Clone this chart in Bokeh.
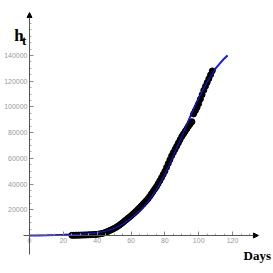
from bokeh.plotting import figure
from bokeh.models import Range1d, LinearAxis, FixedTicker, Arrow, NormalHead, Label, CustomJSTickFormatter
from bokeh.embed import file_html
from bokeh.resources import INLINE

# fitted curve (days, cumulative cases)
fit_days = [0, 5, 10, 15, 20, 25, 30, 35, 40, 45, 50, 55, 60, 65, 70, 75, 80, 85, 90, 95, 100, 105, 110, 115, 117]
fit_vals = [0, 50, 150, 300, 500, 750, 1000, 1400, 2000, 3300, 5500, 8700, 13300, 19000, 26000, 35500, 47500, 62000,
            77000, 92500, 107000, 119500, 130000, 137500, 140000]

# observed data
obs_days = list(range(25, 109))
obs_vals = [150, 170, 200, 230, 260, 300, 340, 380, 420, 470,
            520, 580, 650, 730, 820, 950, 1100, 1300, 1600, 2000,
            2500, 3000, 3600, 4200, 4800, 5500, 6200, 7000, 7900, 8900,
            9900, 11000, 12100, 13200, 14200, 15300, 16500, 17700, 18900, 20200,
            21500, 22900, 24300, 25700, 27100, 28500, 30400, 32300, 34200, 36100,
            38000, 40300, 42600, 45000, 47500, 50000, 53000, 56000, 59000, 62000,
            64500, 67000, 69500, 72000, 74500, 77000, 79000, 81000, 83000, 85000,
            86800, 88500, 94500, 97000, 99500, 102500, 106000, 109500, 113000, 116000,
            119000, 122000, 125000, 128000]

x_ticks = [0, 20, 40, 60, 80, 100, 120]
y_ticks = [20000, 40000, 60000, 80000, 100000, 120000, 140000]
x_minor = [d for d in range(5, 135, 5) if d not in x_ticks]
y_minor = [v for v in range(5000, 175000, 5000) if v not in y_ticks]

p = figure(width=273, height=273, x_range=Range1d(-17.14, 144.2), y_range=Range1d(-29560, 182780),
           output_backend="svg", toolbar_location=None, min_border=0,
           x_axis_type=None, y_axis_type=None)
p.outline_line_color = None
p.background_fill_color = "white"

# axis lines with arrows
p.add_layout(Arrow(end=NormalHead(size=5, fill_color="black", line_color="black"),
                   x_start=-3.55, y_start=0, x_end=135.3, y_end=0, line_color="#555555", line_width=1))
p.add_layout(Arrow(end=NormalHead(size=5, fill_color="black", line_color="black"),
                   x_start=0, y_start=-14800, x_end=0, y_end=173400, line_color="#555555", line_width=1))

xa = LinearAxis(fixed_location=0, ticker=FixedTicker(ticks=x_ticks, minor_ticks=x_minor))
ya = LinearAxis(fixed_location=0, ticker=FixedTicker(ticks=y_ticks, minor_ticks=y_minor))
for ax in (xa, ya):
    ax.axis_line_color = None
    ax.major_tick_in = 4
    ax.major_tick_out = 0
    ax.minor_tick_in = 2
    ax.minor_tick_out = 0
    ax.major_tick_line_color = "#888888"
    ax.minor_tick_line_color = "#aaaaaa"
    ax.major_label_text_color = "#999999"
    ax.major_label_text_font = "Liberation Sans"
    ax.major_label_text_font_size = "7px"
    ax.major_label_standoff = 3
ya.major_label_standoff = 2
ya.formatter = CustomJSTickFormatter(code="return tick.toFixed(0);")
p.add_layout(xa, "below")
p.add_layout(ya, "left")

p.line(fit_days, fit_vals, line_color="#1a1aff", line_width=2)
p.scatter(obs_days, obs_vals, size=6, fill_color="black", line_color="black")
p.line(fit_days, fit_vals, line_color="#1a1aff", line_width=1.2, line_alpha=0.8)

p.add_layout(Label(x=-9.0, y=155560, text="h", text_font="Liberation Serif", text_font_style="bold",
                   text_font_size="17px", text_color="black", text_baseline="alphabetic"))
p.add_layout(Label(x=-4.5, y=151700, text="t", text_font="Liberation Serif", text_font_style="bold",
                   text_font_size="13px", text_color="black", text_baseline="alphabetic"))
p.add_layout(Label(x=126.5, y=-15560, text="Days", text_font="Liberation Serif", text_font_style="bold",
                   text_font_size="13px", text_color="black", text_baseline="alphabetic"))

open("out.html", "w").write(file_html(p, INLINE))
